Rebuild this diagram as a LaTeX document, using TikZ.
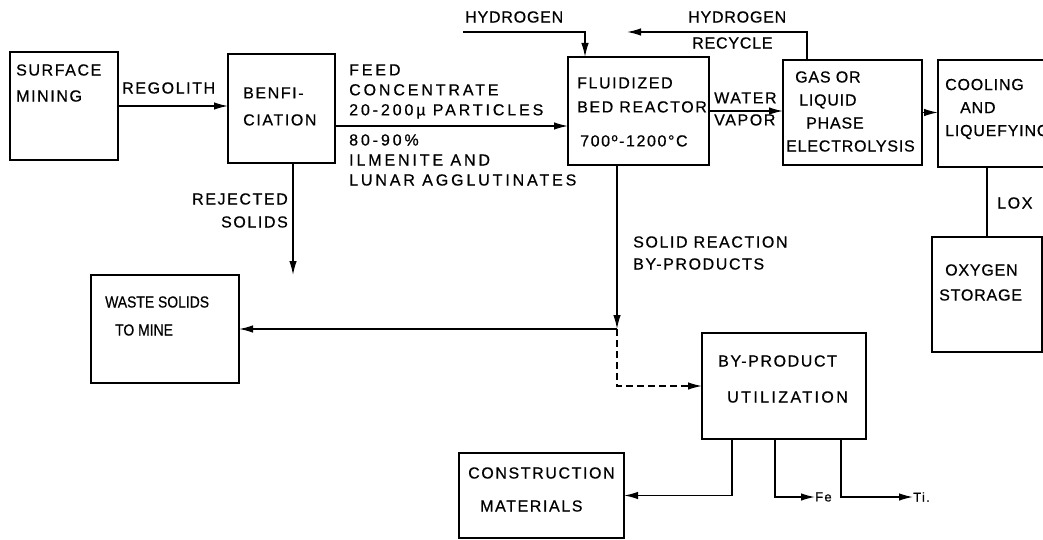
\documentclass[tikz,border=0pt]{standalone}
\usepackage{fontspec}
\usepackage{tikz}
\usetikzlibrary{arrows.meta,positioning,calc}

\newfontfamily\lettering[LetterSpace=10, FakeBold=0.6]{Liberation Sans}
\newcommand\flowfont{\lettering\fontsize{16}{20}\selectfont}
\newcommand\slim[1]{\scalebox{0.87}[1]{#1}}

\begin{document}
\begin{tikzpicture}[x=1pt, y=-1pt,
    unit/.style={draw, line width=1.8pt, rectangle, anchor=north west, inner sep=0pt, outer sep=0pt},
    txt/.style={font=\flowfont, inner sep=0pt, anchor=west, align=left},
    wide/.style={font={\flowfont\addfontfeatures{LetterSpace=18}}},
    narrow/.style={font={\flowfont\addfontfeatures{LetterSpace=5}}},
    flow/.style={line width=1.4pt, -{Latex[length=14pt, width=7.5pt]}},
    pipe/.style={line width=1.4pt}]
  \useasboundingbox (0,0) rectangle (1043,540);
  \clip (0,0) rectangle (1043,540);

  % process units
  \node[unit, minimum width=108pt, minimum height=108pt] (surface) at (10,52) {};
  \node[unit, minimum width=107pt, minimum height=109pt] (benef) at (228,54) {};
  \node[unit, minimum width=141pt, minimum height=108pt] (reactor) at (568,57) {};
  \node[unit, minimum width=139pt, minimum height=105pt] (elec) at (783,60) {};
  \node[unit, minimum width=130pt, minimum height=107pt] (cool) at (938,60) {};
  \node[unit, minimum width=110pt, minimum height=115pt] (oxy) at (932,237) {};
  \node[unit, minimum width=148pt, minimum height=108pt] (waste) at (91,275) {};
  \node[unit, minimum width=164pt, minimum height=106pt] (byp) at (702,333) {};
  \node[unit, minimum width=165pt, minimum height=85pt] (constr) at (459,453) {};

  % unit texts
  \node[txt] (surfacetxt) at (16,83) {SURFACE\\[6pt]MINING};
  \node[txt] (beneftxt) at (243,106.5) {BENFI-\\[7pt]CIATION};
  \node[txt] (reactortxt) at (577,112) {FLUIDIZED\\[4pt]BED REACTOR\\[14pt]\hspace{3pt}700º-1200°C};
  \node[txt, narrow] (electxt) at (786,111.5) {\hspace{9pt}GAS OR\\[3pt]\hspace{13pt}LIQUID\\[3pt]\hspace{20pt}PHASE\\[3pt]ELECTROLYSIS};
  \node[txt, narrow] (cooltxt) at (945,109) {COOLING\\[3pt]\hspace{15pt}AND\\[3pt]LIQUEFYING};
  \node[txt, narrow] (oxytxt) at (939,282.5) {\hspace{6pt}OXYGEN\\[5pt]STORAGE};
  \node[txt, font={\flowfont\addfontfeatures{LetterSpace=0}}]
    (wastetxt) at (105,316) {\slim{WASTE SOLIDS}\\[8pt]\hspace{10pt}\slim{TO MINE}};
  \node[txt] (byptxt) at (718,379) {BY-PRODUCT\\[16pt]\hspace{9pt}{\addfontfeatures{LetterSpace=15}UTILIZATION}};
  \node[txt] (constrtxt) at (468,489.5) {CONSTRUCTION\\[13pt]\hspace{12pt}MATERIALS};

  % stream labels
  \node[txt] (regolith) at (122,88) {REGOLITH};
  \node[txt, wide] (feedup) at (349,91.5) {FEED\\CONCENTRATE\\20-200µ PARTICLES};
  \node[txt, wide] (feedlow) at (349,160) {80-90\%\\ILMENITE AND\\LUNAR AGGLUTINATES};
  \node[txt, narrow] (h2) at (465,17) {HYDROGEN};
  \node[txt, narrow] (h2rec) at (688,30) {HYDROGEN\\[6pt]\hspace{4pt}RECYCLE};
  \node[txt] (water) at (714,109) {WATER\\[2pt]VAPOR};
  \node[txt] (lox) at (997,203) {LOX};
  \node[txt, anchor=east, align=right] (rejected) at (288,210.5) {REJECTED\\[3pt]SOLIDS};
  \node[txt] (solidbp) at (633,253) {SOLID REACTION\\[2pt]BY-PRODUCTS};
  \node[txt, font=\lettering\fontsize{13}{15}\selectfont] (fe) at (815,497) {Fe};
  \node[txt, font=\lettering\fontsize{13}{15}\selectfont] (ti) at (913,497) {Ti.};

  \coordinate (h2in) at (463,32);
  \coordinate (recyc) at (627,32);
  \coordinate (jn) at (617,329);

  % streams
  \draw[flow] (surface.east) -- (surface.east -| benef.west);
  \draw[flow] ([yshift=-17.5pt]benef.east) coordinate (feed) -- (feed -| reactor.west);
  \draw[flow] (h2in) -| ([xshift=17pt]reactor.north west);
  \draw[flow] ([xshift=24pt]elec.north west) |- (recyc);
  \draw[flow] (reactor.east) -- (reactor.east -| elec.west);
  \draw[flow] (elec.east) -- (elec.east -| cool.west);
  \draw[pipe] (oxy.north |- cool.south) -- (oxy.north);
  \draw[flow] ([xshift=11.5pt]benef.south) coordinate (rej) -- (rej |- waste.north);
  \draw[flow] ([xshift=-21.5pt]reactor.south) -- (jn);
  \draw[flow] (jn) -- (jn -| waste.east);
  \draw[flow, dash pattern=on 7pt off 4pt] (jn) |- (byp.west);
  \draw[flow] ([xshift=30pt]byp.south west) |- (constr.east);
  \draw[flow] ([xshift=73pt]byp.south west) |- (fe.west);
  \draw[flow] ([xshift=139pt]byp.south west) |- (ti.west);
\end{tikzpicture}
\end{document}
